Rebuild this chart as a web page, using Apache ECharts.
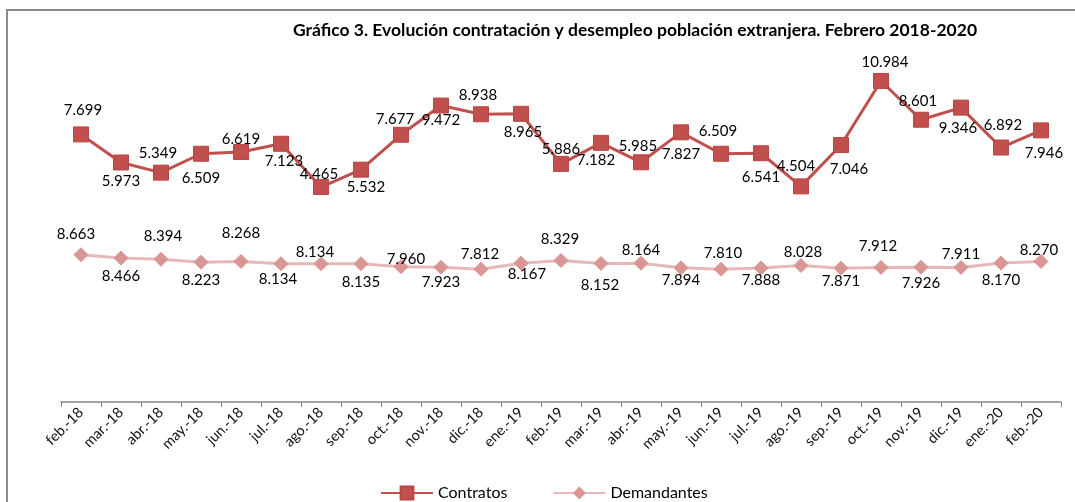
<!DOCTYPE html>
<html>
<head>
<meta charset="utf-8">
<script src="https://cdn.jsdelivr.net/npm/echarts@6/dist/echarts.min.js"></script>
<style>html,body{margin:0;padding:0;background:#fff;}#c{width:1075px;height:502px;}</style>
</head>
<body>
<div id="c"></div>
<script>
const categories = ['feb.-18','mar.-18','abr.-18','may.-18','jun.-18','jul.-18','ago.-18','sep.-18','oct.-18','nov.-18','dic.-18','ene.-19','feb.-19','mar.-19','abr.-19','may.-19','jun.-19','jul.-19','ago.-19','sep.-19','oct.-19','nov.-19','dic.-19','ene.-20','feb.-20'];
const contratos = [7.699,5.973,5.349,6.509,6.619,7.123,4.465,5.532,7.677,9.472,8.938,8.965,5.886,7.182,5.985,7.827,6.509,6.541,4.504,7.046,10.984,8.601,9.346,6.892,7.946];
const demandantes = [8.663,8.466,8.394,8.223,8.268,8.134,8.134,8.135,7.960,7.923,7.812,8.167,8.329,8.152,8.164,7.894,7.810,7.888,8.028,7.871,7.912,7.926,7.911,8.170,8.270];
const titleText = 'Gráfico 3. Evolución contratación y desempleo población extranjera. Febrero 2018-2020';

// label offsets (style only)
const contratosLabelOffsets = [[2,-24],[0,19],[-3,-19],[0,24],[0,-13],[3,17],[-2,-13],[5,17],[-6,-16],[0,15],[-3,-19],[2,18],[0,-15],[-5,17],[-3,-16],[0,22],[-3,-23],[0,24],[-5,-20],[8,24],[4,-19],[-3,-19],[-3,21],[2,-22],[3,23]];
const demandantesLabelOffsets = [[-5,-21],[0,18],[2,-23],[0,18],[0,-28],[-3,15],[-6,-12],[0,18],[5,-8],[0,15],[-1,-15],[6,11],[-1,-21],[-1,22],[0,-13],[0,12],[2,-16],[0,12],[2,-13],[0,13],[-3,-21],[0,16],[0,-13],[0,17],[-2,-11]];

const FONT = 'Lato, "Open Sans", sans-serif';
function withLabels(vals, offs) {
  return vals.map((v, i) => ({ value: v, label: { offset: offs[i] } }));
}

const chart = echarts.init(document.getElementById('c'));
chart.setOption({
  animation: false,
  backgroundColor: '#fff',
  title: {
    text: titleText,
    left: 630, top: 16, textAlign: 'center',
    textStyle: { fontFamily: FONT, fontWeight: 'bold', fontSize: 17.5, color: '#000' }
  },
  graphic: [{
    type: 'rect', shape: { x: 7, y: 10, width: 1200, height: 700 },
    style: { fill: 'none', stroke: '#8c8c8c', lineWidth: 2 }, silent: true, z: -1
  }],
  legend: {
    left: 375, top: 480, itemWidth: 52, itemHeight: 16, itemGap: 45,
    textStyle: { fontFamily: FONT, fontSize: 16, color: '#000' },
    data: ['Contratos', 'Demandantes']
  },
  grid: { left: 61, right: 14, top: 62, bottom: 100 },
  xAxis: {
    type: 'category', data: categories, boundaryGap: true,
    axisLine: { lineStyle: { color: '#868686', width: 1.5 } },
    axisTick: { show: true, length: 5, lineStyle: { color: '#868686' } },
    axisLabel: { rotate: 45, margin: 8, fontFamily: FONT, fontSize: 14.5, color: '#111', interval: 0 }
  },
  yAxis: [
    { type: 'value', min: 0, max: 20, show: false, splitLine: { show: false } },
    { type: 'value', min: -8.75, max: 12.15, show: false, splitLine: { show: false } }
  ],
  series: [
    {
      name: 'Contratos', type: 'line', yAxisIndex: 1,
      data: withLabels(contratos, contratosLabelOffsets),
      symbol: 'rect', symbolSize: 15,
      lineStyle: { color: '#C0504D', width: 3 },
      itemStyle: { color: '#C0504D', borderColor: '#B84744', borderWidth: 1 },
      label: { show: true, position: 'inside', fontFamily: FONT, fontSize: 15, color: '#000',
               formatter: p => p.value.toFixed(3) },
      z: 3
    },
    {
      name: 'Demandantes', type: 'line', yAxisIndex: 0,
      data: withLabels(demandantes, demandantesLabelOffsets),
      symbol: 'diamond', symbolSize: 14,
      lineStyle: { color: '#E6B9B8', width: 3 },
      itemStyle: { color: '#D99694', borderColor: '#D99694' },
      label: { show: true, position: 'inside', fontFamily: FONT, fontSize: 15, color: '#000',
               formatter: p => p.value.toFixed(3) },
      z: 2
    }
  ]
});
</script>
</body>
</html>
